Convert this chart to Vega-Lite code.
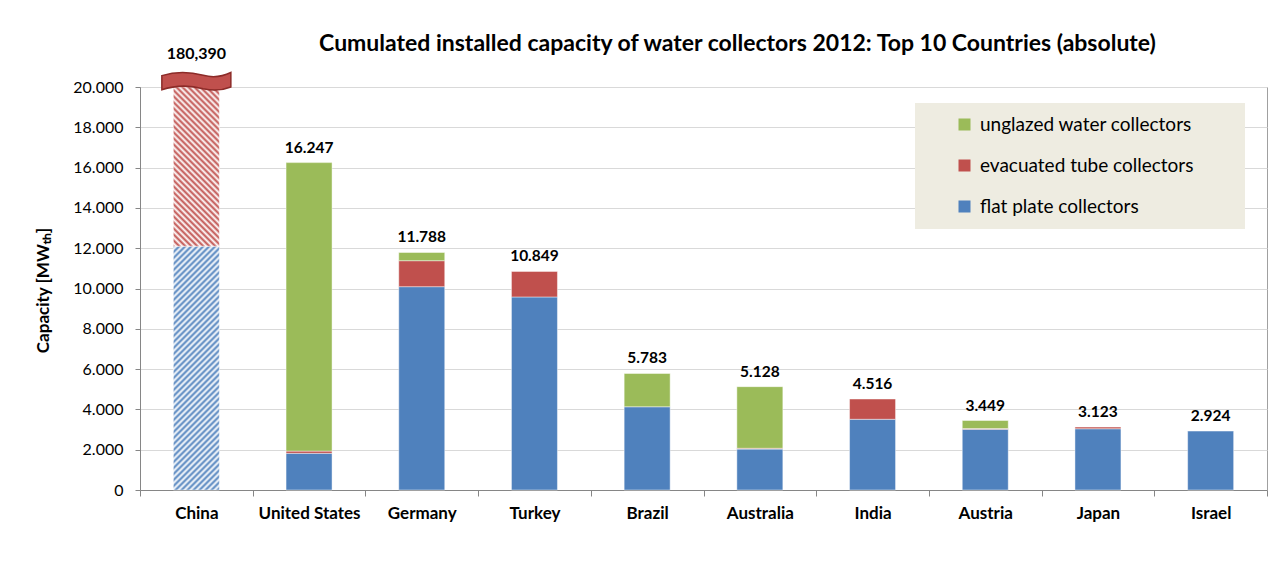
{
  "$schema": "https://vega.github.io/schema/vega-lite/v6.json",
  "autosize": {"type": "none"},
  "width": 1127,
  "height": 403,
  "padding": {"left": 140, "top": 87, "right": 7, "bottom": 74},
  "background": "#ffffff",
  "title": {
    "text": "Cumulated installed capacity of  water collectors  2012: Top 10 Countries (absolute)",
    "anchor": "middle",
    "dx": 34,
    "dy": 21,
    "offset": 0,
    "baseline": "middle",
    "font": "Lato",
    "fontSize": 23,
    "fontWeight": "bold",
    "color": "#000000"
  },
  "config": {
    "locale": {"number": {"decimal": ",", "thousands": ".", "grouping": [3], "currency": ["", " €"]}},
    "view": {"stroke": "#A0A0A0", "strokeWidth": 1}
  },
  "datasets": {
    "main": [
      {"country": "China", "type": "flat plate collectors", "rank": 1, "value": 12100},
      {"country": "China", "type": "evacuated tube collectors", "rank": 2, "value": 7900},
      {"country": "United States", "type": "flat plate collectors", "rank": 1, "value": 1820},
      {"country": "United States", "type": "evacuated tube collectors", "rank": 2, "value": 110},
      {"country": "United States", "type": "unglazed water collectors", "rank": 3, "value": 14317},
      {"country": "Germany", "type": "flat plate collectors", "rank": 1, "value": 10090},
      {"country": "Germany", "type": "evacuated tube collectors", "rank": 2, "value": 1290},
      {"country": "Germany", "type": "unglazed water collectors", "rank": 3, "value": 408},
      {"country": "Turkey", "type": "flat plate collectors", "rank": 1, "value": 9580},
      {"country": "Turkey", "type": "evacuated tube collectors", "rank": 2, "value": 1269},
      {"country": "Brazil", "type": "flat plate collectors", "rank": 1, "value": 4130},
      {"country": "Brazil", "type": "unglazed water collectors", "rank": 3, "value": 1653},
      {"country": "Australia", "type": "flat plate collectors", "rank": 1, "value": 2030},
      {"country": "Australia", "type": "evacuated tube collectors", "rank": 2, "value": 40},
      {"country": "Australia", "type": "unglazed water collectors", "rank": 3, "value": 3058},
      {"country": "India", "type": "flat plate collectors", "rank": 1, "value": 3510},
      {"country": "India", "type": "evacuated tube collectors", "rank": 2, "value": 1006},
      {"country": "Austria", "type": "flat plate collectors", "rank": 1, "value": 3010},
      {"country": "Austria", "type": "evacuated tube collectors", "rank": 2, "value": 40},
      {"country": "Austria", "type": "unglazed water collectors", "rank": 3, "value": 399},
      {"country": "Japan", "type": "flat plate collectors", "rank": 1, "value": 3040},
      {"country": "Japan", "type": "evacuated tube collectors", "rank": 2, "value": 83},
      {"country": "Israel", "type": "flat plate collectors", "rank": 1, "value": 2924}
    ],
    "totals": [
      {"country": "China", "total": 20000, "label": "180,390"},
      {"country": "United States", "total": 16247, "label": "16.247"},
      {"country": "Germany", "total": 11788, "label": "11.788"},
      {"country": "Turkey", "total": 10849, "label": "10.849"},
      {"country": "Brazil", "total": 5783, "label": "5.783"},
      {"country": "Australia", "total": 5128, "label": "5.128"},
      {"country": "India", "total": 4516, "label": "4.516"},
      {"country": "Austria", "total": 3449, "label": "3.449"},
      {"country": "Japan", "total": 3123, "label": "3.123"},
      {"country": "Israel", "total": 2924, "label": "2.924"}
    ]
  },
  "encoding": {
    "x": {
      "field": "country",
      "type": "nominal",
      "sort": ["China", "United States", "Germany", "Turkey", "Brazil", "Australia", "India", "Austria", "Japan", "Israel"],
      "scale": {"paddingInner": 0, "paddingOuter": 0},
      "axis": {
        "title": null,
        "labelAngle": 0,
        "tickBand": "extent",
        "domainColor": "#868686",
        "tickColor": "#868686",
        "tickSize": 6,
        "labelFont": "Lato",
        "labelFontSize": 17,
        "labelFontWeight": "bold",
        "labelColor": "#000000",
        "labelPadding": 9,
        "grid": false
      }
    }
  },
  "layer": [
    {
      "data": {"name": "main"},
      "mark": {"type": "bar", "size": 46, "stroke": "#ffffff", "strokeWidth": 1, "strokeOpacity": 0.45},
      "encoding": {
        "y": {
          "field": "value",
          "type": "quantitative",
          "stack": "zero",
          "scale": {"domain": [0, 20000], "nice": false},
          "axis": {
            "title": "Capacity [MWₜₕ]",
            "titleFont": "Lato",
            "titleFontSize": 17,
            "titleFontWeight": "bold",
            "titleColor": "#000000",
            "titleX": -97,
            "titleY": 203,
            "titleAngle": -90,
            "titleAlign": "center",
            "titleBaseline": "middle",
            "values": [0, 2000, 4000, 6000, 8000, 10000, 12000, 14000, 16000, 18000, 20000],
            "format": ",d",
            "labelFont": "Lato",
            "labelFontSize": 16,
            "labelColor": "#000000",
            "labelPadding": 12,
            "tickSize": 5,
            "tickColor": "#868686",
            "domainColor": "#868686",
            "grid": true,
            "gridColor": "#D9D9D9",
            "gridWidth": 1
          }
        },
        "order": {"field": "rank", "type": "quantitative", "sort": "ascending"},
        "fill": {
          "field": "type",
          "type": "nominal",
          "scale": {
            "domain": ["unglazed water collectors", "evacuated tube collectors", "flat plate collectors"],
            "range": ["#9BBB59", "#C0504D", "#4F81BD"]
          },
          "legend": {
            "orient": "none",
            "legendX": 775,
            "legendY": 16,
            "title": " ",
            "titleOrient": "right",
            "titlePadding": 40,
            "titleFontSize": 4,
            "fillColor": "#EEECE1",
            "strokeColor": null,
            "padding": 12,
            "symbolType": "square",
            "symbolSize": 144,
            "symbolStrokeWidth": 0,
            "symbolOffset": 28,
            "labelOffset": 6,
            "labelFont": "Lato",
            "labelFontSize": 19,
            "labelColor": "#000000",
            "labelLimit": 400,
            "rowPadding": 21
          },
          "condition": [
            {
              "test": "datum.country === 'China' && datum.type === 'flat plate collectors'",
              "value": {
                "gradient": "linear",
                "x1": 0, "y1": 0, "x2": 0.2242, "y2": 1.1883,
                "stops": [
                  {"offset": 0, "color": "#4F81BD"}, {"offset": 0.01, "color": "#FFFFFF"},
                  {"offset": 0.02, "color": "#4F81BD"}, {"offset": 0.03, "color": "#FFFFFF"},
                  {"offset": 0.04, "color": "#4F81BD"}, {"offset": 0.05, "color": "#FFFFFF"},
                  {"offset": 0.06, "color": "#4F81BD"}, {"offset": 0.07, "color": "#FFFFFF"},
                  {"offset": 0.08, "color": "#4F81BD"}, {"offset": 0.09, "color": "#FFFFFF"},
                  {"offset": 0.10, "color": "#4F81BD"}, {"offset": 0.11, "color": "#FFFFFF"},
                  {"offset": 0.12, "color": "#4F81BD"}, {"offset": 0.13, "color": "#FFFFFF"},
                  {"offset": 0.14, "color": "#4F81BD"}, {"offset": 0.15, "color": "#FFFFFF"},
                  {"offset": 0.16, "color": "#4F81BD"}, {"offset": 0.17, "color": "#FFFFFF"},
                  {"offset": 0.18, "color": "#4F81BD"}, {"offset": 0.19, "color": "#FFFFFF"},
                  {"offset": 0.20, "color": "#4F81BD"}, {"offset": 0.21, "color": "#FFFFFF"},
                  {"offset": 0.22, "color": "#4F81BD"}, {"offset": 0.23, "color": "#FFFFFF"},
                  {"offset": 0.24, "color": "#4F81BD"}, {"offset": 0.25, "color": "#FFFFFF"},
                  {"offset": 0.26, "color": "#4F81BD"}, {"offset": 0.27, "color": "#FFFFFF"},
                  {"offset": 0.28, "color": "#4F81BD"}, {"offset": 0.29, "color": "#FFFFFF"},
                  {"offset": 0.30, "color": "#4F81BD"}, {"offset": 0.31, "color": "#FFFFFF"},
                  {"offset": 0.32, "color": "#4F81BD"}, {"offset": 0.33, "color": "#FFFFFF"},
                  {"offset": 0.34, "color": "#4F81BD"}, {"offset": 0.35, "color": "#FFFFFF"},
                  {"offset": 0.36, "color": "#4F81BD"}, {"offset": 0.37, "color": "#FFFFFF"},
                  {"offset": 0.38, "color": "#4F81BD"}, {"offset": 0.39, "color": "#FFFFFF"},
                  {"offset": 0.40, "color": "#4F81BD"}, {"offset": 0.41, "color": "#FFFFFF"},
                  {"offset": 0.42, "color": "#4F81BD"}, {"offset": 0.43, "color": "#FFFFFF"},
                  {"offset": 0.44, "color": "#4F81BD"}, {"offset": 0.45, "color": "#FFFFFF"},
                  {"offset": 0.46, "color": "#4F81BD"}, {"offset": 0.47, "color": "#FFFFFF"},
                  {"offset": 0.48, "color": "#4F81BD"}, {"offset": 0.49, "color": "#FFFFFF"},
                  {"offset": 0.50, "color": "#4F81BD"}, {"offset": 0.51, "color": "#FFFFFF"},
                  {"offset": 0.52, "color": "#4F81BD"}, {"offset": 0.53, "color": "#FFFFFF"},
                  {"offset": 0.54, "color": "#4F81BD"}, {"offset": 0.55, "color": "#FFFFFF"},
                  {"offset": 0.56, "color": "#4F81BD"}, {"offset": 0.57, "color": "#FFFFFF"},
                  {"offset": 0.58, "color": "#4F81BD"}, {"offset": 0.59, "color": "#FFFFFF"},
                  {"offset": 0.60, "color": "#4F81BD"}, {"offset": 0.61, "color": "#FFFFFF"},
                  {"offset": 0.62, "color": "#4F81BD"}, {"offset": 0.63, "color": "#FFFFFF"},
                  {"offset": 0.64, "color": "#4F81BD"}, {"offset": 0.65, "color": "#FFFFFF"},
                  {"offset": 0.66, "color": "#4F81BD"}, {"offset": 0.67, "color": "#FFFFFF"},
                  {"offset": 0.68, "color": "#4F81BD"}, {"offset": 0.69, "color": "#FFFFFF"},
                  {"offset": 0.70, "color": "#4F81BD"}, {"offset": 0.71, "color": "#FFFFFF"},
                  {"offset": 0.72, "color": "#4F81BD"}, {"offset": 0.73, "color": "#FFFFFF"},
                  {"offset": 0.74, "color": "#4F81BD"}, {"offset": 0.75, "color": "#FFFFFF"},
                  {"offset": 0.76, "color": "#4F81BD"}, {"offset": 0.77, "color": "#FFFFFF"},
                  {"offset": 0.78, "color": "#4F81BD"}, {"offset": 0.79, "color": "#FFFFFF"},
                  {"offset": 0.80, "color": "#4F81BD"}, {"offset": 0.81, "color": "#FFFFFF"},
                  {"offset": 0.82, "color": "#4F81BD"}, {"offset": 0.83, "color": "#FFFFFF"},
                  {"offset": 0.84, "color": "#4F81BD"}, {"offset": 0.85, "color": "#FFFFFF"},
                  {"offset": 0.86, "color": "#4F81BD"}, {"offset": 0.87, "color": "#FFFFFF"},
                  {"offset": 0.88, "color": "#4F81BD"}, {"offset": 0.89, "color": "#FFFFFF"},
                  {"offset": 0.90, "color": "#4F81BD"}, {"offset": 0.91, "color": "#FFFFFF"},
                  {"offset": 0.92, "color": "#4F81BD"}, {"offset": 0.93, "color": "#FFFFFF"},
                  {"offset": 0.94, "color": "#4F81BD"}, {"offset": 0.95, "color": "#FFFFFF"},
                  {"offset": 0.96, "color": "#4F81BD"}, {"offset": 0.97, "color": "#FFFFFF"},
                  {"offset": 0.98, "color": "#4F81BD"}, {"offset": 0.99, "color": "#FFFFFF"},
                  {"offset": 1, "color": "#4F81BD"}
                ]
              }
            },
            {
              "test": "datum.country === 'China' && datum.type === 'evacuated tube collectors'",
              "value": {
                "gradient": "linear",
                "x1": 0, "y1": 1, "x2": 0.5037, "y2": -0.741,
                "stops": [
                  {"offset": 0, "color": "#C0504D"}, {"offset": 0.01, "color": "#FFFFFF"},
                  {"offset": 0.02, "color": "#C0504D"}, {"offset": 0.03, "color": "#FFFFFF"},
                  {"offset": 0.04, "color": "#C0504D"}, {"offset": 0.05, "color": "#FFFFFF"},
                  {"offset": 0.06, "color": "#C0504D"}, {"offset": 0.07, "color": "#FFFFFF"},
                  {"offset": 0.08, "color": "#C0504D"}, {"offset": 0.09, "color": "#FFFFFF"},
                  {"offset": 0.10, "color": "#C0504D"}, {"offset": 0.11, "color": "#FFFFFF"},
                  {"offset": 0.12, "color": "#C0504D"}, {"offset": 0.13, "color": "#FFFFFF"},
                  {"offset": 0.14, "color": "#C0504D"}, {"offset": 0.15, "color": "#FFFFFF"},
                  {"offset": 0.16, "color": "#C0504D"}, {"offset": 0.17, "color": "#FFFFFF"},
                  {"offset": 0.18, "color": "#C0504D"}, {"offset": 0.19, "color": "#FFFFFF"},
                  {"offset": 0.20, "color": "#C0504D"}, {"offset": 0.21, "color": "#FFFFFF"},
                  {"offset": 0.22, "color": "#C0504D"}, {"offset": 0.23, "color": "#FFFFFF"},
                  {"offset": 0.24, "color": "#C0504D"}, {"offset": 0.25, "color": "#FFFFFF"},
                  {"offset": 0.26, "color": "#C0504D"}, {"offset": 0.27, "color": "#FFFFFF"},
                  {"offset": 0.28, "color": "#C0504D"}, {"offset": 0.29, "color": "#FFFFFF"},
                  {"offset": 0.30, "color": "#C0504D"}, {"offset": 0.31, "color": "#FFFFFF"},
                  {"offset": 0.32, "color": "#C0504D"}, {"offset": 0.33, "color": "#FFFFFF"},
                  {"offset": 0.34, "color": "#C0504D"}, {"offset": 0.35, "color": "#FFFFFF"},
                  {"offset": 0.36, "color": "#C0504D"}, {"offset": 0.37, "color": "#FFFFFF"},
                  {"offset": 0.38, "color": "#C0504D"}, {"offset": 0.39, "color": "#FFFFFF"},
                  {"offset": 0.40, "color": "#C0504D"}, {"offset": 0.41, "color": "#FFFFFF"},
                  {"offset": 0.42, "color": "#C0504D"}, {"offset": 0.43, "color": "#FFFFFF"},
                  {"offset": 0.44, "color": "#C0504D"}, {"offset": 0.45, "color": "#FFFFFF"},
                  {"offset": 0.46, "color": "#C0504D"}, {"offset": 0.47, "color": "#FFFFFF"},
                  {"offset": 0.48, "color": "#C0504D"}, {"offset": 0.49, "color": "#FFFFFF"},
                  {"offset": 0.50, "color": "#C0504D"}, {"offset": 0.51, "color": "#FFFFFF"},
                  {"offset": 0.52, "color": "#C0504D"}, {"offset": 0.53, "color": "#FFFFFF"},
                  {"offset": 0.54, "color": "#C0504D"}, {"offset": 0.55, "color": "#FFFFFF"},
                  {"offset": 0.56, "color": "#C0504D"}, {"offset": 0.57, "color": "#FFFFFF"},
                  {"offset": 0.58, "color": "#C0504D"}, {"offset": 0.59, "color": "#FFFFFF"},
                  {"offset": 0.60, "color": "#C0504D"}, {"offset": 0.61, "color": "#FFFFFF"},
                  {"offset": 0.62, "color": "#C0504D"}, {"offset": 0.63, "color": "#FFFFFF"},
                  {"offset": 0.64, "color": "#C0504D"}, {"offset": 0.65, "color": "#FFFFFF"},
                  {"offset": 0.66, "color": "#C0504D"}, {"offset": 0.67, "color": "#FFFFFF"},
                  {"offset": 0.68, "color": "#C0504D"}, {"offset": 0.69, "color": "#FFFFFF"},
                  {"offset": 0.70, "color": "#C0504D"}, {"offset": 0.71, "color": "#FFFFFF"},
                  {"offset": 0.72, "color": "#C0504D"}, {"offset": 0.73, "color": "#FFFFFF"},
                  {"offset": 0.74, "color": "#C0504D"}, {"offset": 0.75, "color": "#FFFFFF"},
                  {"offset": 0.76, "color": "#C0504D"}, {"offset": 0.77, "color": "#FFFFFF"},
                  {"offset": 0.78, "color": "#C0504D"}, {"offset": 0.79, "color": "#FFFFFF"},
                  {"offset": 0.80, "color": "#C0504D"}, {"offset": 0.81, "color": "#FFFFFF"},
                  {"offset": 0.82, "color": "#C0504D"}, {"offset": 0.83, "color": "#FFFFFF"},
                  {"offset": 0.84, "color": "#C0504D"}, {"offset": 0.85, "color": "#FFFFFF"},
                  {"offset": 0.86, "color": "#C0504D"}, {"offset": 0.87, "color": "#FFFFFF"},
                  {"offset": 0.88, "color": "#C0504D"}, {"offset": 0.89, "color": "#FFFFFF"},
                  {"offset": 0.90, "color": "#C0504D"}, {"offset": 0.91, "color": "#FFFFFF"},
                  {"offset": 0.92, "color": "#C0504D"}, {"offset": 0.93, "color": "#FFFFFF"},
                  {"offset": 0.94, "color": "#C0504D"}, {"offset": 0.95, "color": "#FFFFFF"},
                  {"offset": 0.96, "color": "#C0504D"}, {"offset": 0.97, "color": "#FFFFFF"},
                  {"offset": 0.98, "color": "#C0504D"}, {"offset": 0.99, "color": "#FFFFFF"},
                  {"offset": 1, "color": "#C0504D"}
                ]
              }
            }
          ]
        }
      }
    },
    {
      "data": {"name": "totals"},
      "transform": [{"filter": "datum.country !== 'China'"}],
      "mark": {"type": "text", "font": "Lato", "fontSize": 15.5, "fontWeight": "bold", "color": "#000000", "baseline": "middle", "dy": -15},
      "encoding": {
        "y": {"field": "total", "type": "quantitative"},
        "text": {"field": "label"}
      }
    },
    {
      "data": {"name": "totals"},
      "transform": [{"filter": "datum.country === 'China'"}],
      "mark": {"type": "point", "filled": true, "opacity": 1, "fill": "#C0504D", "stroke": "#8C2B28", "strokeWidth": 1.5, "size": 4761,
        "shape": "M -1 -0.33 C -0.55 -0.47 -0.1 -0.42 0.2 -0.34 C 0.5 -0.26 0.75 -0.3 1 -0.42 L 1 0.0 C 0.75 0.1 0.5 0.12 0.2 0.05 C -0.1 -0.03 -0.55 -0.07 -1 0.08 Z"},
      "encoding": {
        "y": {"field": "total", "type": "quantitative"}
      }
    },
    {
      "data": {"name": "totals"},
      "transform": [{"filter": "datum.country === 'China'"}],
      "mark": {"type": "text", "font": "Lato", "fontSize": 16, "fontWeight": "bold", "color": "#000000", "baseline": "middle", "dy": -33},
      "encoding": {
        "y": {"field": "total", "type": "quantitative"},
        "text": {"field": "label"}
      }
    }
  ]
}
